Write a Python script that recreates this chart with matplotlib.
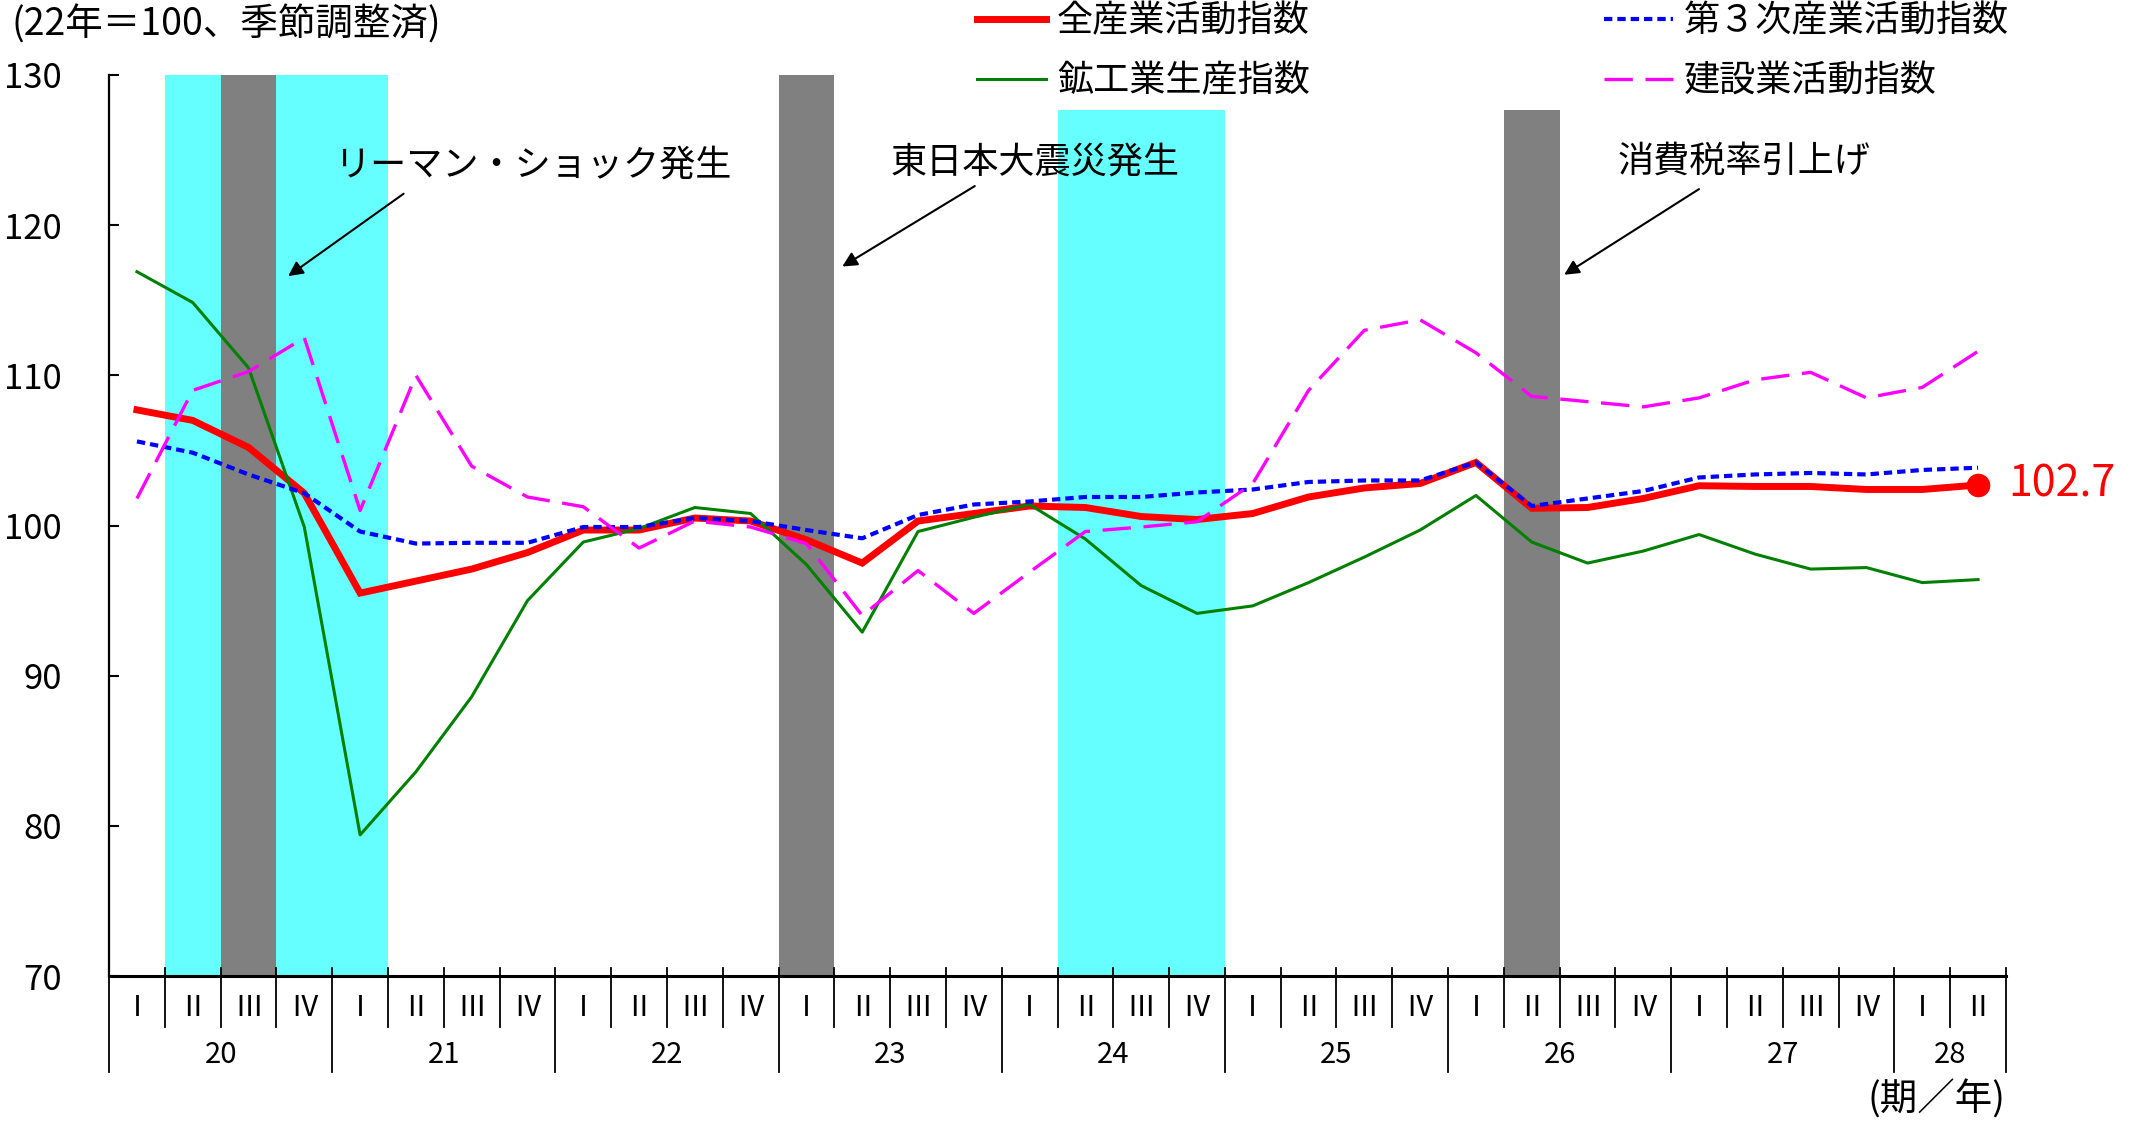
import matplotlib.pyplot as plt

plt.rcParams['font.family'] = ['Noto Sans CJK JP', 'DejaVu Sans']

# 平成20年Ⅰ期〜28年Ⅱ期 (四半期)
years = ['20', '21', '22', '23', '24', '25', '26', '27', '28']
quarters_per_year = [4, 4, 4, 4, 4, 4, 4, 4, 2]
quarter_names = ['Ⅰ', 'Ⅱ', 'Ⅲ', 'Ⅳ']

all_industry = [107.7, 107.0, 105.2, 102.15, 95.5, 96.3, 97.1, 98.2, 99.7, 99.7, 100.5, 100.3,
                99.05, 97.5, 100.3, 100.8, 101.3, 101.2, 100.6, 100.4, 100.8, 101.9, 102.5, 102.8,
                104.2, 101.15, 101.2, 101.8, 102.65, 102.6, 102.6, 102.4, 102.4, 102.7]
tertiary = [105.6, 104.85, 103.4, 102.15, 99.6, 98.8, 98.85, 98.85, 99.9, 99.9, 100.5, 100.3,
            99.7, 99.15, 100.7, 101.4, 101.6, 101.9, 101.9, 102.2, 102.4, 102.9, 103.0, 103.0,
            104.2, 101.3, 101.8, 102.3, 103.2, 103.4, 103.5, 103.4, 103.7, 103.85]
mining = [116.9, 114.85, 110.5, 99.9, 79.4, 83.6, 88.6, 95.0, 98.9, 99.8, 101.2, 100.8,
          97.4, 92.9, 99.6, 100.55, 101.4, 99.1, 96.0, 94.15, 94.65, 96.2, 97.9, 99.7,
          102.0, 98.9, 97.5, 98.3, 99.4, 98.1, 97.1, 97.2, 96.2, 96.4]
construction = [101.8, 109.0, 110.25, 112.5, 101.0, 110.0, 103.95, 101.9, 101.25, 98.5, 100.3, 99.9,
                98.8, 94.0, 97.0, 94.15, 96.9, 99.6, 99.9, 100.25, 102.8, 109.0, 113.0, 113.7,
                111.5, 108.6, 108.25, 107.9, 108.5, 109.7, 110.2, 108.5, 109.2, 111.6]

# 景気後退期 (水色) とイベント期 (灰色): 四半期番号と上端
recession_quarters = [1, 2, 3, 4, 17, 18, 19]
recession_tops = [130, 130, 130, 130, 127.7, 127.7, 127.7]
event_quarters = [2, 12, 25]
event_tops = [130, 130, 127.7]
events = ['リーマン・ショック発生', '東日本大震災発生', '消費税率引上げ']
event_text_pos = [(7.1, 124.0), (16.1, 124.2), (28.8, 124.2)]
event_arrow_tail = [(4.82, 122.2), (15.06, 122.7), (28.04, 122.5)]
event_arrow_head = [(2.67, 116.5), (12.6, 117.15), (25.54, 116.6)]

n = len(all_industry)
x = list(range(n))
ymin, ymax = 70, 130

fig = plt.figure(figsize=(21.34, 11.21), dpi=100)
ax = fig.add_axes([0.0511, 0.1293, 0.8889, 0.8038])

ax.bar(recession_quarters, [t - ymin for t in recession_tops], bottom=ymin, width=1.0,
       color='#66FFFF', zorder=0)
ax.bar(event_quarters, [t - ymin for t in event_tops], bottom=ymin, width=1.0,
       color='#808080', zorder=1)

l_all, = ax.plot(x, all_industry, color='#FF0000', lw=5, zorder=3, solid_joinstyle='miter')
l_min, = ax.plot(x, mining, color='#008000', lw=2.2, zorder=4)
l_ter, = ax.plot(x, tertiary, color='#0000FF', lw=3, dashes=(2, 1.2), zorder=5)
l_con, = ax.plot(x, construction, color='#FF00FF', lw=2.4, dashes=(8.5, 3.8), zorder=6)

# 直近値
ax.plot(x[-1], all_industry[-1], 'o', color='#FF0000', ms=16, zorder=7)
ax.text(x[-1] + 0.55, all_industry[-1], f'{all_industry[-1]:.1f}', color='#FF0000',
        fontsize=31, va='center', ha='left')

for label, tpos, tail, head in zip(events, event_text_pos, event_arrow_tail, event_arrow_head):
    ax.text(tpos[0], tpos[1], label, fontsize=26, ha='center', va='center', zorder=8)
    ax.annotate('', xy=head, xytext=tail,
                arrowprops=dict(arrowstyle='-|>', color='k', lw=1.5, mutation_scale=22),
                zorder=8)

ax.set_xlim(-0.5, n - 0.5)
ax.set_ylim(ymin, ymax)
ax.set_yticks(range(70, 131, 10))
ax.tick_params(axis='y', direction='in', length=7, width=1.5, labelsize=25, pad=34)
ax.set_xticks([])
ax.spines['top'].set_visible(False)
ax.spines['right'].set_visible(False)
ax.spines['left'].set_linewidth(1.6)
ax.spines['bottom'].set_linewidth(2.2)
ax.spines['bottom'].set_zorder(9)

# 二段の横軸ラベル (期/年)
trans = ax.get_xaxis_transform()
pos = 0
for yr, nq in zip(years, quarters_per_year):
    ax.plot([pos - 0.5, pos - 0.5], [0.009, -0.1065], color='k', lw=1.3,
            transform=trans, clip_on=False)
    for q in range(nq):
        if q > 0:
            ax.plot([pos + q - 0.5, pos + q - 0.5], [0.009, -0.0566], color='k', lw=1.3,
                    transform=trans, clip_on=False)
        ax.text(pos + q, -0.0355, quarter_names[q], fontsize=21, ha='center', va='center',
                transform=trans)
    ax.text(pos + (nq - 1) / 2, -0.0877, yr, fontsize=21, ha='center', va='center',
            transform=trans)
    pos += nq
ax.plot([pos - 0.5, pos - 0.5], [0.009, -0.1065], color='k', lw=1.3,
        transform=trans, clip_on=False)

ax.text(n - 0.5, -0.1376, '(期／年)', fontsize=27, ha='right', va='center', transform=trans)
fig.text(0.0052, 0.978, '(22年＝100、季節調整済)', fontsize=27, ha='left', va='center')

fig.legend([l_all, l_min, l_ter, l_con],
           ['全産業活動指数', '鉱工業生産指数', '第３次産業活動指数', '建設業活動指数'],
           ncol=2, loc='upper left', bbox_to_anchor=(0.458, 0.997), frameon=False,
           fontsize=26, handlelength=1.9, handletextpad=0.3, columnspacing=8.15,
           labelspacing=0.67, borderpad=0, borderaxespad=0)

fig.savefig('out.png', dpi=100)
